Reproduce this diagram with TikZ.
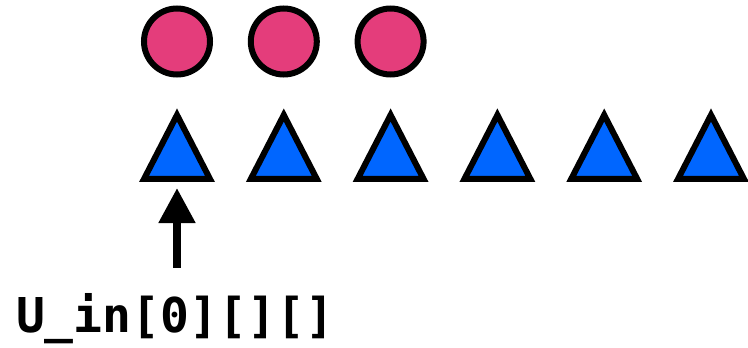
\documentclass[tikz,border=0pt]{standalone}
\usepackage{fontspec}
\setmonofont{DejaVu Sans Mono}
\usepackage{tikz}
\usetikzlibrary{shapes.geometric}
\usetikzlibrary{positioning}
\usetikzlibrary{arrows.meta}
\definecolor{pink}{RGB}{228,61,123}
\definecolor{blue}{RGB}{0,102,255}

\begin{document}
\begin{tikzpicture}[x=1pt,y=-1pt,
    cell/.style={circle, draw=black, fill=pink, line width=6pt,
                 inner sep=0pt, minimum size=66pt},
    elem/.style={isosceles triangle, isosceles triangle stretches,
                 shape border rotate=90, draw=black, fill=blue,
                 line width=6pt, line join=miter, inner sep=0pt,
                 minimum width=66pt, minimum height=64pt, anchor=south}]

%---------------------------------------
% Layout
%---------------------------------------
\def\dx{106.8}
\def\xs{177}
\useasboundingbox (0,0) rectangle (748,348);

%====================================================
% Top row: circles
%====================================================
\node[cell] (c0) at (\xs,41.5) {};
\node[cell] (c1) at (\xs+\dx,41.5) {};
\node[cell] (c2) at (\xs+2*\dx,41.5) {};

%====================================================
% Bottom row: triangles
%====================================================
\foreach \i in {0,...,5}
  \node[elem] (t\i) at (\xs+\i*\dx,182) {};

% Label and arrow
\node[anchor=base, inner sep=0pt, font=\fontsize{48}{48}\selectfont\ttfamily\bfseries]
  (uin) at (175,332) {U\_in[0][][]};
\draw[line width=8pt, -{Triangle[length=35pt,width=35pt]},
      shorten <=25pt, shorten >=6pt] (t0.south |- uin.north) -- (t0.south);

\end{tikzpicture}
\end{document}
